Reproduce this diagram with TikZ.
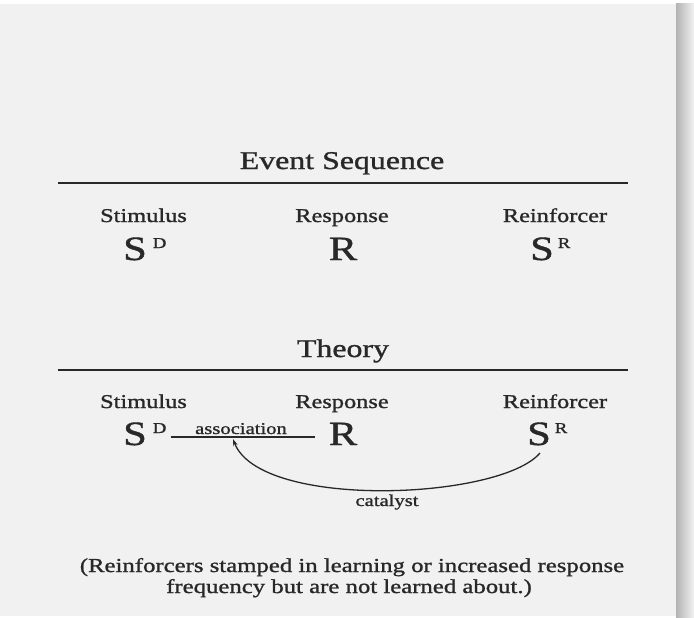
\documentclass[tikz,border=0pt]{standalone}
\usepackage{fontspec}
\setmainfont[FakeStretch=1.25,FakeBold=1.2]{Liberation Serif}
\usepackage{tikz}
\usetikzlibrary{arrows.meta,calc}
\definecolor{inkgray}{RGB}{40,40,40}
\definecolor{pagegray}{RGB}{241,241,241}
\newcommand{\supmark}[1]{\raisebox{12pt}{\fontsize{15}{15}\selectfont #1}}
\tikzset{
  heading/.style={anchor=base,inner sep=0pt,text=inkgray,font=\fontsize{25.5}{30}\selectfont},
  rolelabel/.style={anchor=base,inner sep=0pt,text=inkgray,font=\fontsize{19.5}{23}\selectfont},
  symbol/.style={anchor=base west,inner sep=0pt,text=inkgray,font=\fontsize{34}{38}\selectfont},
  smalltext/.style={anchor=base,inner sep=0pt,text=inkgray,font=\fontsize{16.5}{20}\selectfont},
  notetext/.style={anchor=base,inner sep=0pt,text=inkgray,font=\fontsize{19.8}{23}\selectfont},
  rule/.style={draw=inkgray,line width=1.8pt},
  edge/.style={draw=inkgray,line width=1.3pt,-{Stealth[length=7pt,width=4.5pt]}}
}
\begin{document}
\begin{tikzpicture}[x=1pt,y=-1pt]
  \useasboundingbox (0,0) rectangle (694,618);
  % page and shadow
  \fill[white] (0,0) rectangle (694,618);
  \fill[pagegray] (0,4) rectangle (676,616);
  \shade[left color=black!30,right color=black!5] (676,4) rectangle (694,618);

  % event sequence
  \node[heading] (evseq) at (342,169) {Event Sequence};
  \draw[rule] (58,183) -- (628,183);
  \node[rolelabel] (stim1) at (143.5,222) {Stimulus};
  \node[rolelabel] (resp1) at (342,222) {Response};
  \node[rolelabel] (reinf1) at (555,222) {Reinforcer};
  \node[symbol] (sd1) at (123,260) {S\hspace{6pt}\supmark{D}};
  \node[symbol,anchor=base] (r1) at (343,260) {R};
  \node[symbol] (sr1) at (530,260) {S\hspace{4pt}\supmark{R}};

  % theory
  \node[heading] (theory) at (343,357) {Theory};
  \draw[rule] (58,370) -- (628,370);
  \node[rolelabel] (stim2) at (143.5,408) {Stimulus};
  \node[rolelabel] (resp2) at (342,408) {Response};
  \node[rolelabel] (reinf2) at (555,408) {Reinforcer};
  \node[symbol] (sd2) at (123,445) {S\hspace{6pt}\supmark{D}};
  \node[symbol,anchor=base] (r2) at (343,445) {R};
  \node[symbol] (sr2) at (527,445) {S\hspace{4pt}\supmark{R}};
  \draw[draw=inkgray,line width=1.2pt] ([xshift=4pt,yshift=8pt]sd2.base east) -- ([xshift=-14pt,yshift=8pt]r2.base west);
  \node[smalltext] (assoc) at (241,434) {association};
  \coordinate (assocpt) at (233,439);
  \draw[edge] ([xshift=13pt,yshift=-8pt]sr2.base west) .. controls (500,500) and (260,510) .. (assocpt);
  \node[smalltext] (catal) at (387,506) {catalyst};

  % note
  \node[notetext] (note1) at (352,572) {(Reinforcers stamped in learning or increased response};
  \node[notetext] (note2) at (349,593) {frequency but are not learned about.)};
\end{tikzpicture}
\end{document}
